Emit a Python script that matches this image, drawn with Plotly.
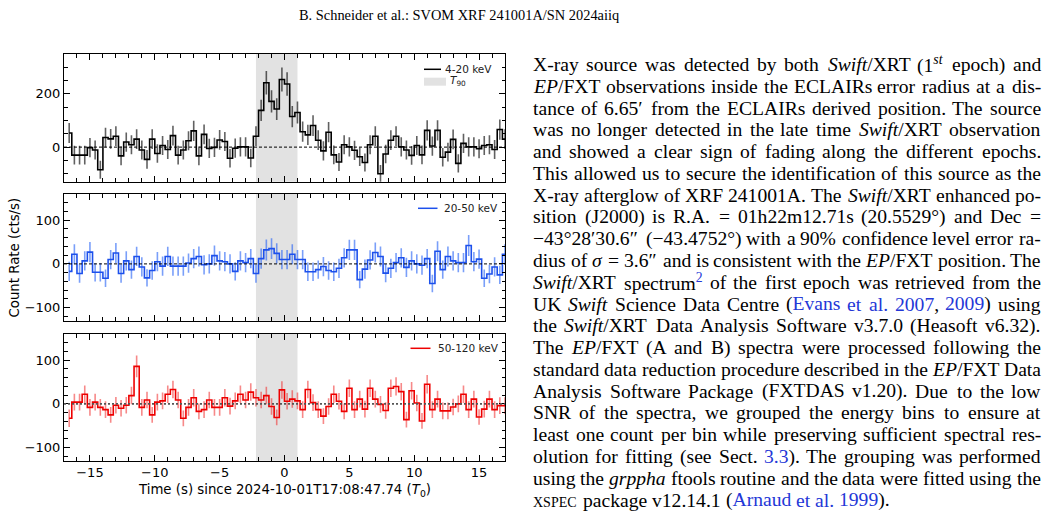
import re
import plotly.graph_objects as go

W, H = 1051, 518

# ---------------- data ----------------
BIN_WIDTH = 0.4
FIRST_CENTER = -16.6
N_BINS = 85
time_s = [round(FIRST_CENTER + BIN_WIDTH * k, 2) for k in range(N_BINS)]

rate_4_20 = [53, -30, -30, -30, -2, -11, -85, 36, 31, 41,
             -33, 19, 9, 30, -11, -46, 30, -24, 6, -9,
             43, -30, -11, 24, 61, -33, 48, -5, -1, 27,
             21, -42, -4, 1, 1, -41, 41, 138, 242, 172,
             143, 254, 237, 115, 130, 58, 46, 81, 26, -14,
             56, -29, -56, 9, 1, -12, -36, -58, 9, 41,
             -100, -26, 26, 41, 1, -11, -31, 6, -29, 63,
             4, 63, -38, -19, 29, -61, 14, 1, 1, -6,
             6, 9, -9, 66, 30]
err_4_20 = [38, 35, 35, 35, 36, 36, 34, 37, 37, 37,
            35, 36, 36, 37, 36, 35, 37, 35, 36, 36,
            37, 35, 36, 36, 38, 35, 37, 36, 36, 37,
            36, 35, 36, 36, 36, 35, 37, 40, 44, 42,
            41, 45, 44, 40, 41, 38, 38, 39, 37, 36,
            38, 35, 34, 36, 36, 36, 35, 34, 36, 37,
            33, 35, 37, 37, 36, 36, 35, 36, 35, 38,
            36, 38, 35, 35, 37, 34, 36, 36, 36, 36,
            36, 36, 36, 38, 37]

rate_20_50 = [-17, 22, -22, 7, 27, -19, -19, -33, 10, 25,
              -22, 7, -13, 17, -7, -32, -15, 5, -5, 17,
              -5, -5, -5, 2, 12, 17, -2, 0, 19, 7,
              5, 0, -17, 7, 3, 12, -22, 12, 32, 35,
              24, 10, 10, 22, 10, 10, -18, -18, -13, -6,
              -15, -18, -10, 14, 32, 32, -36, -12, 9, 26,
              17, -21, -10, 3, 14, -8, 7, 0, -3, 12,
              -45, 29, -13, 17, 7, 3, 3, 42, 5, 11,
              -33, -23, -7, -25, 22]
err_20_50 = [22, 23, 21, 22, 23, 21, 21, 20, 22, 23,
             21, 22, 21, 22, 22, 20, 21, 22, 22, 22,
             22, 22, 22, 22, 22, 23, 22, 22, 23, 22,
             22, 22, 21, 22, 22, 22, 21, 23, 24, 24,
             23, 22, 22, 23, 22, 22, 21, 21, 21, 22,
             21, 21, 22, 22, 23, 23, 20, 22, 22, 23,
             23, 21, 22, 22, 22, 22, 22, 22, 22, 22,
             20, 23, 21, 23, 22, 22, 22, 24, 22, 22,
             20, 21, 22, 21, 23]

rate_50_120 = [-33, 4, 4, 22, -8, 4, -8, -13, -25, -3,
               -10, -3, 19, 86, -8, 9, -25, 4, 7, 22,
               33, 9, -33, -8, 14, -17, -13, 9, -8, -8,
               14, -5, 7, 22, 9, 27, 14, 9, 19, -6,
               -31, 32, 6, 11, 7, -13, 33, 3, -13, -28,
               -6, 22, 6, -17, 36, -13, 11, -12, 36, 11,
               -1, -15, 36, 40, 28, -36, 30, 2, -39, 45,
               -13, 11, -16, -16, -7, 0, 22, -13, 11, -30,
               -12, 11, -13, -4, -4]
err_50_120 = [20, 19, 19, 20, 19, 19, 19, 19, 18, 19,
              19, 19, 20, 25, 19, 19, 18, 19, 19, 20,
              20, 19, 18, 19, 20, 18, 19, 19, 19, 19,
              20, 19, 19, 20, 19, 20, 20, 19, 20, 19,
              18, 20, 19, 20, 19, 19, 20, 19, 19, 18,
              19, 20, 19, 18, 20, 19, 19, 19, 20, 19,
              19, 19, 20, 21, 20, 18, 20, 19, 18, 21,
              19, 19, 19, 19, 19, 19, 20, 19, 19, 18,
              19, 19, 19, 19, 19]

band_labels = ["4-20 keV", "20-50 keV", "50-120 keV"]
T90_START, T90_END = -2.2, 1.0
X_RANGE = [-17, 17]
Y_RANGES = [[-130, 350], [-130, 160], [-130, 160]]
Y_DTICKS = [200, 100, 100]
Y_MINOR = [50, 20, 20]

HEADER = "B. Schneider et al.: SVOM XRF 241001A/SN 2024aiiq"
TEXT_LINES = [
    "X-ray source was detected by both <i>Swift</i>/XRT (1<sup><i>st</i></sup> epoch) and",
    "<i>EP</i>/FXT observations inside the ECLAIRs error radius at a dis-",
    "tance of 6.65′ from the ECLAIRs derived position. The source",
    "was no longer detected in the late time <i>Swift</i>/XRT observation",
    "and showed a clear sign of fading along the different epochs.",
    "This allowed us to secure the identification of this source as the",
    "X-ray afterglow of XRF 241001A. The <i>Swift</i>/XRT enhanced po-",
    "sition (J2000) is R.A. = 01h22m12.71s (20.5529°) and Dec =",
    "−43°28′30.6″ (−43.4752°) with a 90% confidence level error ra-",
    "dius of <i>σ</i> = 3.6″ and is consistent with the <i>EP</i>/FXT position. The",
    "<i>Swift</i>/XRT spectrum<c><sup>2</sup></c> of the first epoch was retrieved from the",
    "UK <i>Swift</i> Science Data Centre (<c>Evans et al. 2007</c>, <c>2009</c>) using",
    "the <i>Swift</i>/XRT Data Analysis Software v3.7.0 (Heasoft v6.32).",
    "The <i>EP</i>/FXT (A and B) spectra were processed following the",
    "standard data reduction procedure described in the <i>EP</i>/FXT Data",
    "Analysis Software Package (FXTDAS v1.20). Due to the low",
    "SNR of the spectra, we grouped the energy bins to ensure at",
    "least one count per bin while preserving sufficient spectral res-",
    "olution for fitting (see Sect. <c>3.3</c>). The grouping was performed",
    "using the <i>grppha</i> ftools routine and the data were fitted using the",
    "<sc>xspec</sc> package v12.14.1 (<c>Arnaud et al. 1999</c>).",
]

# ---------------- style ----------------
SANS = "DejaVu Sans"
SERIF = "Liberation Serif, Times New Roman, serif"
LINK = "rgb(35,55,215)"
F = 19.6
SC_SCALE = 0.74
TEXT_X0, TEXT_X1 = 533, 1041
LINE_Y0, LINE_DY = 64.5, 21.78

colors_line = ["#000000", "#1c50ec", "#ee0000"]
colors_err = ["rgba(0,0,0,0.62)", "rgba(40,100,245,0.62)", "rgba(240,40,40,0.55)"]

PX_LEFT, PX_RIGHT = 64, 505
PANELS_PX = [(54, 181.7), (194, 320.7), (334, 460.7)]


def fx(px):
    return px / W


def fy(py):
    return 1 - py / H


# Times metrics (per 1000 em)
ROMAN = dict(zip("ABCDEFGHIJKLMNOPQRSTUVWXYZ",
                 [722, 667, 667, 722, 611, 556, 722, 722, 333, 389, 722, 611, 889, 722, 722, 556, 722, 667, 556, 611, 722, 722, 944, 722, 722, 611]))
ROMAN.update(dict(zip("abcdefghijklmnopqrstuvwxyz",
                      [444, 500, 444, 500, 444, 333, 500, 500, 278, 278, 500, 278, 778, 500, 500, 500, 500, 333, 389, 278, 500, 500, 722, 500, 500, 444])))
ROMAN.update({str(d): 500 for d in range(10)})
ROMAN.update({" ": 250, ".": 250, ",": 250, "-": 333, "(": 333, ")": 333, "/": 278, ":": 278,
              "=": 564, "%": 833, "°": 400, "−": 564, "′": 290, "″": 480, "σ": 540})
ITALIC = dict(zip("ABCDEFGHIJKLMNOPQRSTUVWXYZ",
                  [611, 611, 667, 722, 611, 611, 722, 722, 333, 444, 667, 556, 833, 667, 722, 611, 722, 611, 500, 556, 722, 611, 833, 611, 556, 556]))
ITALIC.update(dict(zip("abcdefghijklmnopqrstuvwxyz",
                       [500, 500, 444, 500, 444, 278, 500, 500, 278, 278, 444, 278, 722, 500, 500, 500, 500, 389, 389, 278, 500, 444, 667, 444, 444, 389])))
ITALIC.update({"σ": 540})


def parse_line(line):
    """Split a marked-up line into words: (html, width_px, font_overrides)."""
    state = {"i": False, "sup": False, "c": False, "sc": False}
    chars = []
    for tok in re.split(r"(</?(?:i|sup|c|sc)>)", line):
        m = re.fullmatch(r"<(/?)(i|sup|c|sc)>", tok)
        if m:
            state[m.group(2)] = (m.group(1) == "")
            continue
        for ch in tok:
            chars.append((ch, tuple(sorted(state.items()))))
    words, cur = [], []
    for ch, st in chars:
        if ch == " ":
            if cur:
                words.append(cur)
            cur = []
        else:
            cur.append((ch, st))
    if cur:
        words.append(cur)
    out = []
    for wd in words:
        runs = []
        for ch, st in wd:
            if runs and runs[-1][1] == st:
                runs[-1][0] += ch
            else:
                runs.append([ch, st])
        width = 0.0
        for txt, st in runs:
            s = dict(st)
            scale = 0.7 if s["sup"] else 1.0
            table = ITALIC if s["i"] else ROMAN
            if s["sc"]:
                width += sum(ROMAN.get(ch.upper(), 600) for ch in txt) * SC_SCALE * F / 1000.0
            else:
                width += sum(table.get(ch, ROMAN.get(ch, 500)) for ch in txt) * scale * F / 1000.0
        if len(runs) == 1 and not dict(runs[0][1])["sup"]:
            # uniform style: express it through the annotation font itself
            s = dict(runs[0][1])
            fnt = {}
            if s["i"]:
                fnt["style"] = "italic"
            if s["c"]:
                fnt["color"] = LINK
            if s["sc"]:
                fnt["variant"] = "small-caps"
            out.append((runs[0][0], width, fnt))
            continue
        html = ""
        for txt, st in runs:
            s = dict(st)
            inner = txt
            if s["i"]:
                inner = "<i>%s</i>" % inner
            if s["c"]:
                inner = '<span style="color:%s">%s</span>' % (LINK, inner)
            if s["sup"]:
                inner = "<sup>%s</sup>" % inner
            html += inner
        out.append((html, width, {}))
    return out


fig = go.Figure()

series = [(rate_4_20, err_4_20), (rate_20_50, err_20_50), (rate_50_120, err_50_120)]
for p, (vals, errs) in enumerate(series):
    xa = "x" if p == 0 else "x%d" % (p + 1)
    ya = "y" if p == 0 else "y%d" % (p + 1)
    fig.add_trace(go.Scatter(
        x=time_s, y=vals, mode="markers", xaxis=xa, yaxis=ya,
        marker=dict(size=1, color="rgba(0,0,0,0)"),
        error_y=dict(type="data", array=errs, visible=True, color=colors_err[p], thickness=1.6, width=0),
        showlegend=False, hoverinfo="skip"))
    fig.add_trace(go.Scatter(
        x=time_s, y=vals, mode="lines", xaxis=xa, yaxis=ya, line_shape="hvh",
        line=dict(color=colors_line[p], width=1.6), name=band_labels[p], showlegend=False))

axis_common = dict(showline=True, linecolor="black", linewidth=1, mirror="allticks",
                   ticks="inside", ticklen=6, tickwidth=1, tickcolor="black",
                   showgrid=False, zeroline=False,
                   tickfont=dict(family=SANS, size=13, color="black"))

layout = dict(width=W, height=H, margin=dict(l=0, r=0, t=0, b=0),
              paper_bgcolor="white", plot_bgcolor="white", showlegend=False,
              font=dict(family=SANS, size=13, color="black"))
shapes, annotations = [], []
for p in range(3):
    top, bot = PANELS_PX[p]
    xk = "xaxis" if p == 0 else "xaxis%d" % (p + 1)
    yk = "yaxis" if p == 0 else "yaxis%d" % (p + 1)
    xa = "x" if p == 0 else "x%d" % (p + 1)
    ya = "y" if p == 0 else "y%d" % (p + 1)
    layout[xk] = dict(axis_common, domain=[fx(PX_LEFT), fx(PX_RIGHT)], range=X_RANGE,
                      anchor=ya, tick0=0, dtick=5, showticklabels=(p == 2), ticklabelstandoff=0,
                      minor=dict(ticks="inside", ticklen=3.5, tickwidth=1, tickcolor="black", dtick=1, showgrid=False))
    layout[yk] = dict(axis_common, domain=[fy(bot), fy(top)], range=Y_RANGES[p], anchor=xa,
                      tick0=0, dtick=Y_DTICKS[p],
                      minor=dict(ticks="inside", ticklen=3.5, tickwidth=1, tickcolor="black", dtick=Y_MINOR[p], showgrid=False))
    # T90 shading
    shapes.append(dict(type="rect", xref=xa, yref=ya + " domain", x0=T90_START, x1=T90_END, y0=0, y1=1,
                       fillcolor="#e2e2e2", line=dict(width=0), layer="below"))
    # zero reference line
    if p < 2:
        zl = dict(color="black", width=1, dash="3px,2px")
    else:
        zl = dict(color="#555555", width=1.8, dash="2px,2px")
    shapes.append(dict(type="line", xref=xa, yref=ya, x0=X_RANGE[0], x1=X_RANGE[1], y0=0, y1=0, line=zl, layer="above"))

# legends
LEG = [(424, 441, 69.3, 444), (418, 437.5, 208.3, 443), (410.5, 430.5, 348.3, 436.5)]
for p, (l0, l1, ly, tx) in enumerate(LEG):
    shapes.append(dict(type="line", xref="paper", yref="paper", x0=fx(l0), x1=fx(l1), y0=fy(ly), y1=fy(ly),
                       line=dict(color=colors_line[p], width=1.5)))
    annotations.append(dict(text=band_labels[p], x=fx(tx), y=fy(ly), xref="paper", yref="paper",
                            xanchor="left", yanchor="middle", showarrow=False, borderpad=0,
                            font=dict(family=SANS, size=10.5, color="#222222")))
shapes.append(dict(type="rect", xref="paper", yref="paper", x0=fx(424), x1=fx(446), y0=fy(85.7), y1=fy(77.7),
                   fillcolor="#e2e2e2", line=dict(width=0)))
annotations.append(dict(text="<i>T</i><sub>90</sub>", x=fx(448.5), y=fy(81.5), xref="paper", yref="paper",
                        xanchor="left", yanchor="middle", showarrow=False, borderpad=0,
                        font=dict(family=SANS, size=10.5, color="#222222")))

# axis titles
annotations.append(dict(text="Time (s) since 2024-10-01T17:08:47.74 (<i>T</i><sub>0</sub>)",
                        x=fx((PX_LEFT + PX_RIGHT) / 2), y=fy(490), xref="paper", yref="paper",
                        xanchor="center", yanchor="middle", showarrow=False, borderpad=0,
                        font=dict(family=SANS, size=13.3, color="black")))
annotations.append(dict(text="Count Rate (cts/s)", textangle=-90, x=fx(14), y=fy(257.5),
                        xref="paper", yref="paper", xanchor="center", yanchor="middle",
                        showarrow=False, borderpad=0, font=dict(family=SANS, size=13.3, color="black")))

# header
annotations.append(dict(text=HEADER, x=fx(459), y=fy(15.5), xref="paper", yref="paper",
                        xanchor="center", yanchor="middle", showarrow=False, borderpad=0,
                        font=dict(family=SERIF, size=14.4, color="black")))

# body text, justified word by word
for i, line in enumerate(TEXT_LINES):
    words = parse_line(line)
    yc = LINE_Y0 + i * LINE_DY
    justified = i < len(TEXT_LINES) - 1
    total = sum(w for _, w, _ in words)
    n = len(words)
    gap = (TEXT_X1 - TEXT_X0 - total) / (n - 1) if (justified and n > 1) else F * 0.25
    lefts = []
    x = TEXT_X0
    for _, w, _ in words:
        lefts.append(x)
        x += w + gap
    for j, (html, w, fnt) in enumerate(words):
        if justified and j >= n / 2:
            right = TEXT_X1 - sum(ww for _, ww, _ in words[j + 1:]) - gap * (n - 1 - j)
            ax, anchor = right, "right"
        else:
            ax, anchor = lefts[j], "left"
        font = dict(family=SERIF, size=F, color="black")
        font.update(fnt)
        annotations.append(dict(text=html, x=fx(ax), y=fy(yc), xref="paper", yref="paper",
                                xanchor=anchor, yanchor="middle", showarrow=False,
                                borderpad=0, borderwidth=0, font=font))

layout["shapes"] = shapes
layout["annotations"] = annotations
fig.update_layout(**layout)
fig.write_html("out.html")
